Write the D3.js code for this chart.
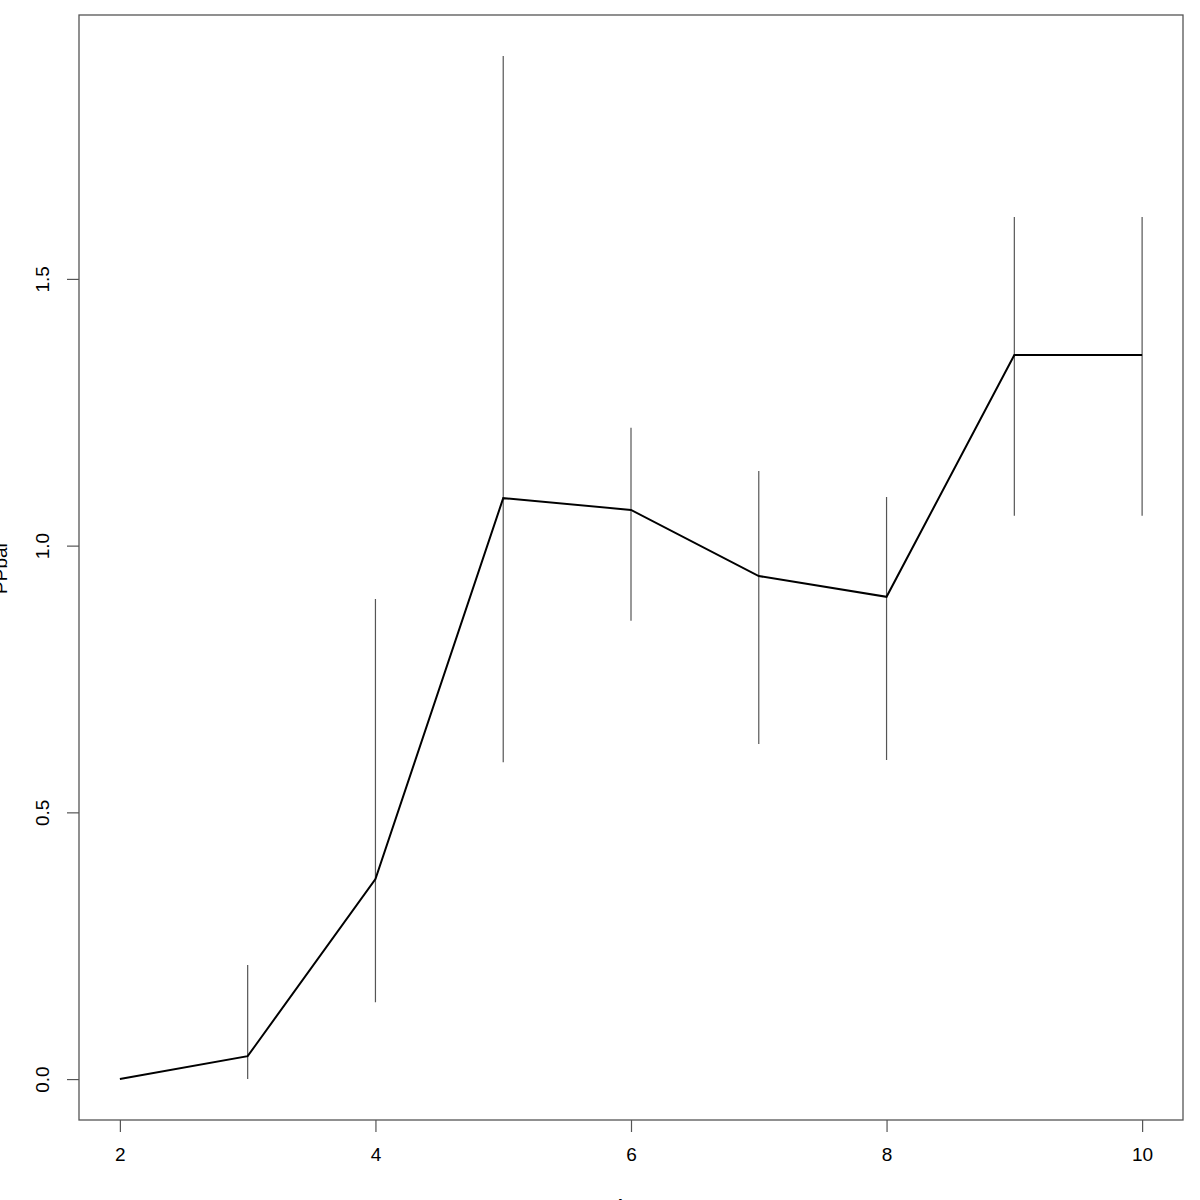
<!DOCTYPE html>
<html>
<head>
<meta charset="utf-8">
<script src="https://cdn.jsdelivr.net/npm/d3@7"></script>
<style>
  body { margin: 0; background: #fff; }
  svg { display: block; font-family: "Liberation Sans", Arial, sans-serif; }
</style>
</head>
<body>
<svg id="chart" width="1200" height="1200"></svg>
<script>
// values
var xs    = [2, 3, 4, 5, 6, 7, 8, 9, 10];
var means = [0, 0.043, 0.375, 1.089, 1.067, 0.943, 0.904, 1.3575, 1.3575];
var lower = [null, 0, 0.144, 0.594, 0.859, 0.628, 0.598, 1.056, 1.056];
var upper = [null, 0.214, 0.9, 1.918, 1.221, 1.14, 1.091, 1.616, 1.616];
var xTicks = [2, 4, 6, 8, 10];
var yTicks = [0, 0.5, 1, 1.5];

// plot region (window.top is read-only, so no "top" here)
var boxLeft = 79, boxRight = 1183, boxTop = 15, boxBottom = 1120;

var xPad = (10 - 2) * 0.04;
var x = d3.scaleLinear().domain([2 - xPad, 10 + xPad]).range([boxLeft, boxRight]);
var yMax = d3.max(upper), yPad = yMax * 0.04;
var y = d3.scaleLinear().domain([0 - yPad, yMax + yPad]).range([boxBottom, boxTop]);

var svg = d3.select("#chart");

// error bars
var rows = xs.map(function(v, i) { return {x: v, m: means[i], lo: lower[i], hi: upper[i]}; });
svg.append("g").selectAll("line")
    .data(rows.filter(function(d) { return d.lo != null; }))
    .enter().append("line")
    .attr("x1", function(d) { return x(d.x); })
    .attr("x2", function(d) { return x(d.x); })
    .attr("y1", function(d) { return y(d.lo); })
    .attr("y2", function(d) { return y(d.hi); })
    .attr("stroke", "#555")
    .attr("stroke-width", 1.2);

// mean line
var line = d3.line()
    .x(function(d) { return x(d.x); })
    .y(function(d) { return y(d.m); });
svg.append("path")
    .datum(rows)
    .attr("d", line)
    .attr("fill", "none")
    .attr("stroke", "#000")
    .attr("stroke-width", 2);

// box
svg.append("rect")
    .attr("x", boxLeft).attr("y", boxTop)
    .attr("width", boxRight - boxLeft).attr("height", boxBottom - boxTop)
    .attr("fill", "none").attr("stroke", "#555").attr("stroke-width", 1.3);

// axes
var xAxis = svg.append("g")
    .attr("transform", "translate(0," + boxBottom + ")")
    .call(d3.axisBottom(x).tickValues(xTicks).tickSize(12).tickPadding(16).tickFormat(d3.format("d")));
var yAxis = svg.append("g")
    .attr("transform", "translate(" + boxLeft + ",0)")
    .call(d3.axisLeft(y).tickValues(yTicks).tickSize(12).tickFormat(d3.format(".1f")));

[xAxis, yAxis].forEach(function(a) {
    a.select(".domain").remove();
    a.selectAll(".tick line").attr("stroke", "#555").attr("stroke-width", 1.2);
    a.selectAll("text").attr("font-size", 19).attr("fill", "#000")
        .attr("font-family", "'Liberation Sans', Arial, sans-serif");
});

yAxis.selectAll(".tick text")
    .attr("x", 0).attr("dy", 0)
    .attr("text-anchor", "middle")
    .attr("transform", "translate(-30,0) rotate(-90)");

// axis titles (mostly off the page, as in the original)
svg.append("text")
    .attr("x", (boxLeft + boxRight) / 2).attr("y", 1212)
    .attr("text-anchor", "middle").attr("font-size", 19)
    .text("Age");
svg.append("text")
    .attr("transform", "translate(7," + ((boxTop + boxBottom) / 2) + ") rotate(-90)")
    .attr("text-anchor", "middle").attr("font-size", 19)
    .text("PPbar");
</script>
</body>
</html>
